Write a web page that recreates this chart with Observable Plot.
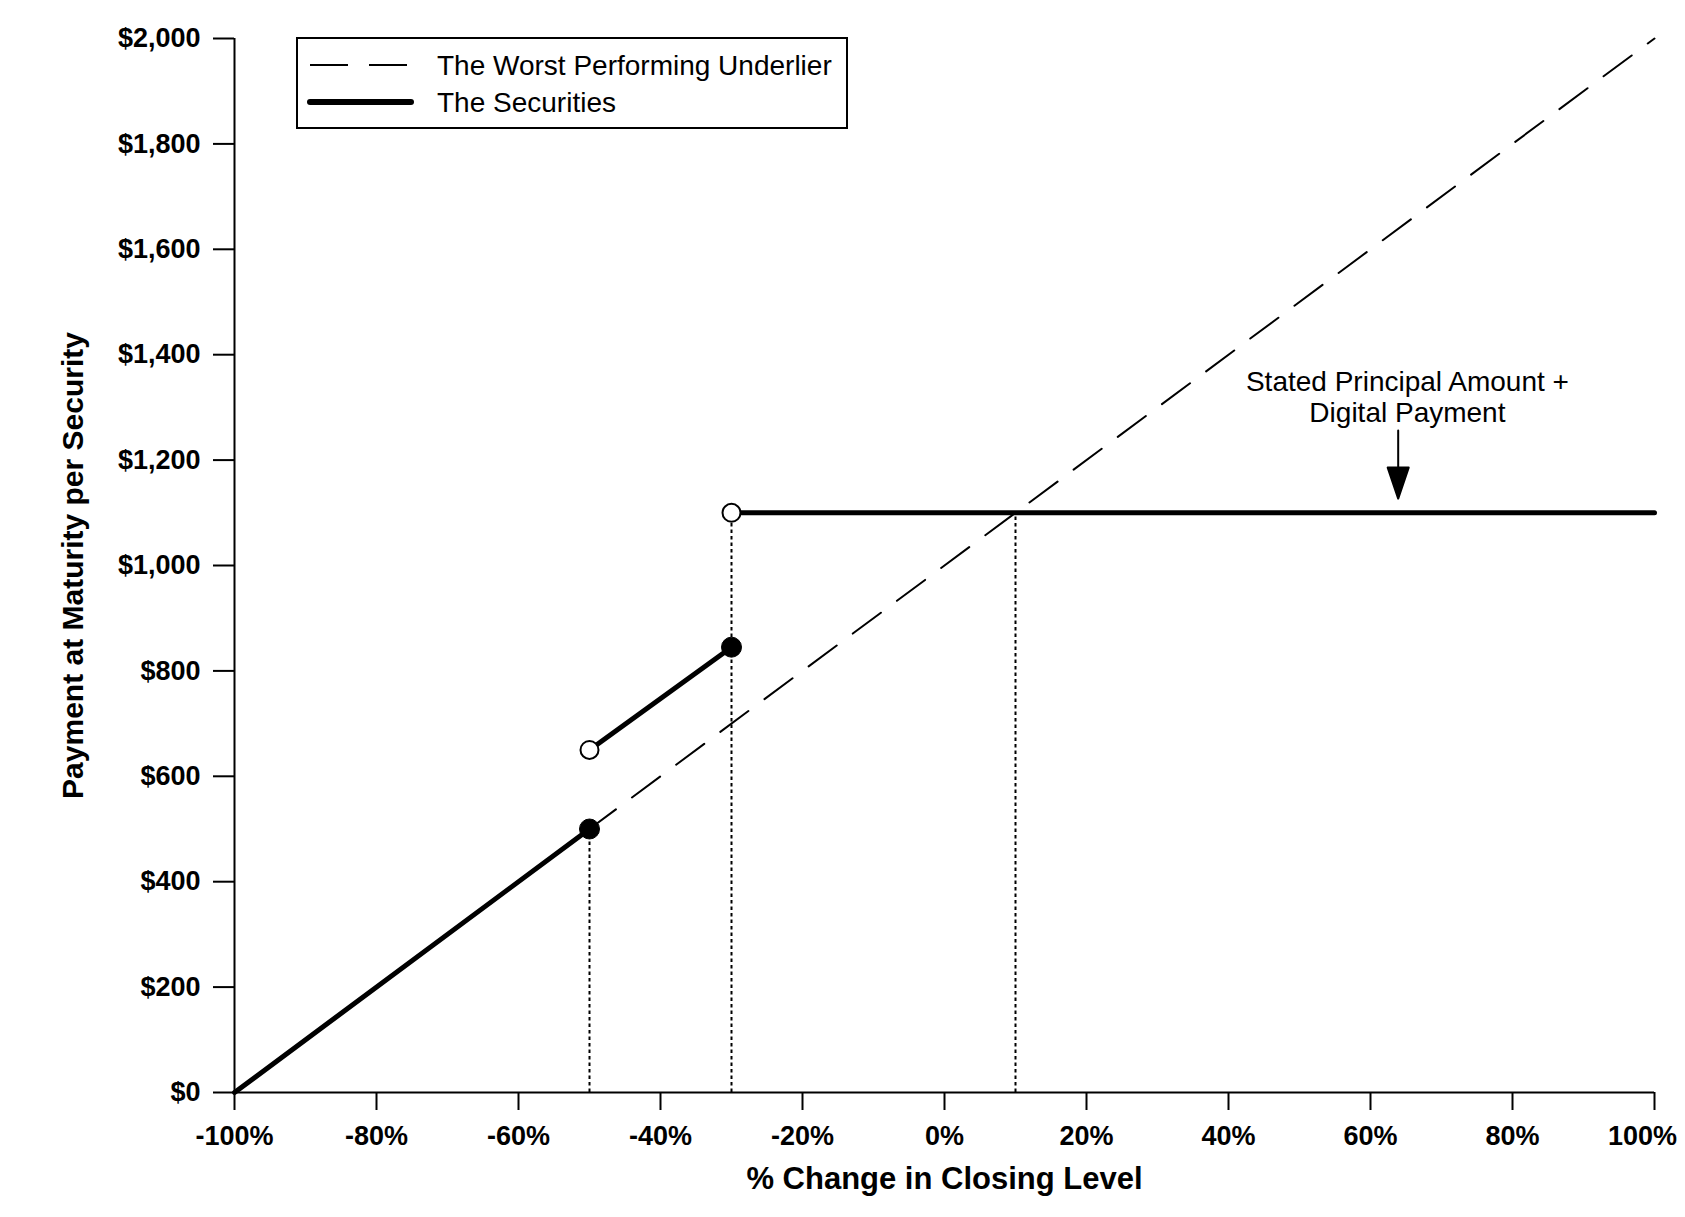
<!DOCTYPE html>
<html>
<head>
<meta charset="utf-8">
<script src="https://cdn.jsdelivr.net/npm/d3@7"></script>
<script src="https://cdn.jsdelivr.net/npm/@observablehq/plot@0.6"></script>
<style>
  html, body { margin: 0; padding: 0; background: #fff; }
  #wrap { position: relative; width: 1685px; height: 1217px; font-family: "Liberation Sans", Arial, sans-serif; }
  #legend { position: absolute; left: 296px; top: 37px; }
</style>
</head>
<body>
<div id="wrap"></div>
<script>
// ---- data ----
const xTicks = [-100, -80, -60, -40, -20, 0, 20, 40, 60, 80, 100];
const yTicks = [0, 200, 400, 600, 800, 1000, 1200, 1400, 1600, 1800, 2000];
const underlierX = [-100, 100];
const underlierY = [0, 2000];
const segA_X = [-100, -50];
const segA_Y = [0, 500];
const segB_X = [-50, -30];
const segB_Y = [650, 845];
const segC_X = [-30, 100];
const segC_Y = [1100, 1100];
const filledX = [-50, -30];
const filledY = [500, 845];
const openX = [-50, -30];
const openY = [650, 1100];
const guideX = [-50, -30, 10];
const guideTop = [500, 1100, 1100];
const noteLines = ["Stated Principal Amount +", "Digital Payment"];
const noteX = 65.2;
const noteY = [1349, 1290];
const arrowX = 63.9;
const arrowTip = 1127;
const xTitle = "% Change in Closing Level";
const yTitle = "Payment at Maturity per Security";
const legendLabels = ["The Worst Performing Underlier", "The Securities"];

const pts = (xs, ys) => xs.map((x, i) => ({x, y: ys[i]}));
const underlier = pts(underlierX, underlierY);
const segA = pts(segA_X, segA_Y);
const segB = pts(segB_X, segB_Y);
const segC = pts(segC_X, segC_Y);
const filled = pts(filledX, filledY);
const open = pts(openX, openY);
const guides = guideX.map((x, i) => ({x, y1: 0, y2: guideTop[i]}));
const notes = noteLines.map((t, i) => ({t, x: noteX, y: noteY[i]}));

const FONT = "Liberation Sans, Arial, sans-serif";
const pct = d => d + "%";
const lastX = xTicks[xTicks.length - 1];

const arrowShape = {
  draw(context, l, r) {
    const head = 31, half = 10.5;
    context.moveTo(0, 0);
    context.lineTo(0, -l + head);
    context.moveTo(-half, -l + head);
    context.lineTo(0, -l);
    context.lineTo(half, -l + head);
    context.closePath();
  }
};

const chart = Plot.plot({
  width: 1685,
  height: 1217,
  marginLeft: 234,
  marginRight: 31,
  marginTop: 38,
  marginBottom: 125,
  style: {fontFamily: FONT, fontSize: "27px", color: "#000", background: "#fff"},
  x: {domain: [-100, 100]},
  y: {domain: [0, 2000]},
  marks: [
    Plot.axisY(yTicks, {tickSize: 21, tickPadding: 13, strokeWidth: 2, fontWeight: "bold", fontSize: 27,
      tickFormat: d => "$" + d3.format(",")(d), label: null}),
    Plot.axisX(xTicks, {tickSize: 18, tickPadding: 15, strokeWidth: 2, fontWeight: "bold", fontSize: 27,
      tickFormat: d => d === lastX ? "" : pct(d), label: null}),
    Plot.text([lastX], {x: d => d, text: pct, frameAnchor: "bottom", lineAnchor: "top", dy: 33, dx: -12,
      fontWeight: "bold", fontSize: 27, fill: "#000"}),
    Plot.line(underlier, {x: "x", y: "y", stroke: "#000", strokeWidth: 2, strokeDasharray: "35,20"}),
    Plot.ruleX(guides, {x: "x", y1: "y1", y2: "y2", stroke: "#000", strokeWidth: 2, strokeDasharray: "3.5,3"}),
    Plot.ruleX([-100], {stroke: "#000", strokeWidth: 2}),
    Plot.ruleY([0], {stroke: "#000", strokeWidth: 2}),
    Plot.line(segA, {x: "x", y: "y", stroke: "#000", strokeWidth: 5}),
    Plot.line(segB, {x: "x", y: "y", stroke: "#000", strokeWidth: 5}),
    Plot.line(segC, {x: "x", y: "y", stroke: "#000", strokeWidth: 5}),
    Plot.dot(filled, {x: "x", y: "y", r: 10, fill: "#000", stroke: "#000", strokeWidth: 1}),
    Plot.dot(open, {x: "x", y: "y", r: 9, fill: "#fff", stroke: "#000", strokeWidth: 2}),
    Plot.text(notes, {x: "x", y: "y", text: "t", fontSize: 28, fill: "#000", textAnchor: "middle"}),
    Plot.vector([arrowTip], {x: arrowX, y: d => d, length: 68, rotate: 180, anchor: "end",
      shape: arrowShape, stroke: "#000", fill: "#000", strokeWidth: 2}),
    Plot.text([yTitle], {frameAnchor: "left", textAnchor: "middle", rotate: -90, dx: -161,
      fontWeight: "bold", fontSize: 30, fill: "#000"}),
    Plot.text([xTitle], {frameAnchor: "bottom", textAnchor: "middle", dy: 96,
      fontWeight: "bold", fontSize: 31, fill: "#000"})
  ]
});

const wrap = document.getElementById("wrap");
wrap.appendChild(chart);

// ---- legend (inside plot area) ----
const leg = d3.select(wrap).append("svg")
  .attr("id", "legend").attr("width", 553).attr("height", 94);
leg.append("rect").attr("x", 1).attr("y", 1).attr("width", 550).attr("height", 90)
  .attr("fill", "#fff").attr("stroke", "#000").attr("stroke-width", 2);
const rows = [
  {label: legendLabels[0], dash: "38,21", w: 2, cap: "butt", y: 28},
  {label: legendLabels[1], dash: null, w: 6, cap: "round", y: 65}
];
rows.forEach(r => {
  leg.append("line").attr("x1", 14).attr("x2", r.dash ? 113 : 115).attr("y1", r.y).attr("y2", r.y)
    .attr("stroke", "#000").attr("stroke-width", r.w).attr("stroke-linecap", r.cap)
    .attr("stroke-dasharray", r.dash);
  leg.append("text").attr("x", 141).attr("y", r.y).attr("dy", "0.35em")
    .attr("font-family", FONT).attr("font-size", 28).attr("fill", "#000").text(r.label);
});
</script>
</body>
</html>
